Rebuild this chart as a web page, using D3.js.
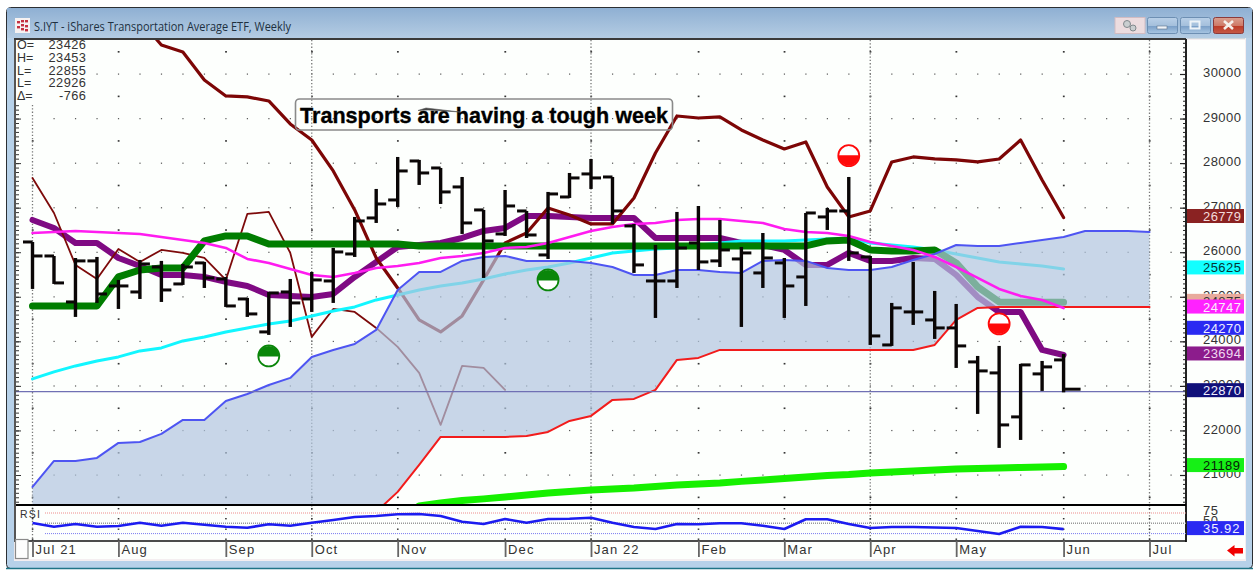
<!DOCTYPE html>
<html><head><meta charset="utf-8">
<script src="https://d3js.org/d3.v7.min.js"></script>
<style>html,body{margin:0;padding:0;background:#fff;overflow:hidden}svg{display:block}</style>
</head><body><svg id="c" width="1255" height="571"></svg>
<script>
// ---------- data ----------
const monthLabels = ["Jul 21","Aug","Sep","Oct","Nov","Dec","Jan 22","Feb","Mar","Apr","May","Jun","Jul"];
const monthWeeks  = [0,4,9,13,17,22,26,31,35,39,43,48,52];
const quarterWeeks = [0,13,26,39,52];
const priceTicks = [21000,22000,23000,24000,25000,26000,27000,28000,29000,30000];
const opens  = [26230,25916,24884,25805,25243,25108,25669,25288,25760,25400,24951,24211,25108,24951,25355,25961,26769,27173,28048,27891,27465,26949,26410,26926,25939,27240,27757,27689,26590,25355,25355,26208,25805,25849,25535,25760,25445,26792,26926,25894,23919,24660,24480,24301,23538,23291,22304,23269,23583];
const highs  = [26230,25916,25871,25894,25378,25827,25805,25737,25782,25445,24974,25108,25400,25557,26096,26792,27420,28138,28071,27891,27689,26949,27397,26926,27353,27779,28093,27689,26635,26163,26904,27038,26724,26118,26432,25871,26881,26994,27689,25916,24862,25782,25131,24839,23672,23897,23493,23560,23717];
const lows   = [25176,25288,24548,24862,24727,24951,24884,25266,25198,24772,24548,24144,24323,24660,24862,25894,26657,27016,27510,27083,26410,25423,26365,26320,25849,27218,27420,26635,25535,24525,25198,25602,25669,24323,25198,24525,24794,26500,25805,23919,23897,24368,24054,23403,22371,21608,21787,22887,22855];
const closes = [25916,25311,25805,25063,25243,25737,25153,25669,25423,24794,24615,25086,24862,25378,26006,26702,27083,27824,27779,27353,26657,26253,27038,26387,27308,27667,27667,26926,25715,25355,26096,25782,26051,25984,25871,25243,26881,26926,25984,24121,24750,24660,24301,23897,23336,22124,23471,23426,22926];

const darkRedStart = 5;
const darkRedThick = [31212,30651,30494,29866,29507,29485,29395,28879,28519,27824,26949,25871,25198,24480,24211,24570,25378,26208,26432,26994,26836,26635,26635,27218,28228,29058,29013,29036,28744,28519,28317,28475,27465,26792,26926,28026,28138,28093,28071,28026,28093,28519,27622,26779];
const darkRedThin = [27667,26881,25715,25400,26073,25782,26051,25984,25871,25378,26859,26904,25984,24099,24727,24660,24301,23874,23291,22124,23448,23403,22909];
const purpleLine = [26724,26545,26208,26208,25871,25692,25490,25490,25445,25333,25243,25041,25019,24996,25063,25445,25782,26118,26163,26208,26320,26477,26545,26814,26814,26792,26769,26769,26769,26320,26320,26320,26320,26208,26163,26051,25715,25715,25984,25805,25805,25871,25849,25490,24996,24660,24660,23807,23694];
const greenLine  = [24794,24794,24794,24794,25445,25602,25647,25647,26253,26365,26365,26186,26186,26186,26186,26186,26186,26186,26141,26141,26141,26141,26141,26141,26141,26141,26141,26141,26141,26141,26141,26141,26141,26141,26141,26141,26141,26253,26275,26051,26029,26029,26051,25760,25221,24884,24875,24875,24875];
const magentaLine = [26432,26455,26477,26455,26432,26410,26343,26275,26208,26096,25849,25760,25624,25490,25445,25535,25647,25692,25760,25871,25916,25984,26096,26118,26208,26343,26477,26567,26635,26657,26724,26747,26747,26702,26657,26522,26455,26432,26365,26230,26141,26051,25894,25669,25423,25176,25019,24929,24747];
const cyanLine = [23156,23314,23448,23560,23650,23785,23852,24009,24099,24211,24301,24391,24458,24570,24682,24772,24929,25041,25153,25243,25311,25400,25512,25602,25669,25760,25871,25984,26029,26073,26096,26163,26208,26253,26253,26253,26275,26298,26320,26208,26163,26118,26051,25961,25871,25782,25737,25692,25625];
const cloudUpper = [20733,21316,21316,21383,21720,21742,21922,22236,22236,22662,22819,23021,23179,23650,23807,23942,24256,25153,25557,25557,25805,25894,25916,25805,25805,25805,25760,25669,25490,25490,25602,25602,25557,25535,25805,25827,25805,25647,25602,25602,25669,25827,25961,26163,26141,26141,26208,26275,26343,26477,26477,26477,26455];
const cloudLower = [19500,19500,19500,19500,19500,19500,19500,19500,19500,19500,19500,19500,19500,19500,19500,19768,20172,20621,21227,21855,21855,21855,21855,21877,21967,22214,22326,22685,22708,22909,23583,23628,23807,23807,23807,23807,23807,23807,23807,23807,23807,23807,23919,24480,24750,24772,24772,24772,24772,24772,24772,24772,24772];
const limeStart = 18;
const limeLine = [20306,20374,20430,20464,20508,20553,20598,20632,20665,20688,20710,20744,20778,20800,20823,20857,20890,20924,20957,20991,21013,21047,21069,21092,21114,21136,21148,21159,21170,21181,21189];
const rsiValues = [50.7,41.8,48.3,41.8,43.4,51.5,44.2,51.5,46.6,41.8,39.3,47.6,44.2,51.5,58,65.3,67.7,71.8,72.6,67.7,53.9,48.3,60.4,51.5,60.4,61.2,63.6,51.5,41,36.2,48.3,47.6,50,50,44.2,36.2,59.7,59.7,48.3,38.6,41,41,39.8,38.6,31.3,24,41.8,41,35.92];
const signalWeeks  = [11,24,38,45];
const signalPrices = [23672,25378,28167,24391];
const signalKinds  = ["buy","buy","sell","sell"];
const readoutNames  = ["O=","H=","L=","L=","Δ="];
const readoutValues = ["23426","23453","22855","22926","-766"];
const lastPrice = 22870;
const tagValues = [26779,25625,24875,24747,24270,23694,22870,21189];
const tagFills  = ["#8a2222","#12ffff","#e8aa9c","#ff22ff","#2a2af2","#8c1c8c","#10107a","#16f016"];
const tagInks   = ["#f4dcdc","#053535","#333333","#fbeefb","#f0f0ff","#f0d8f0","#f0f0ff","#062006"];
const rsiTicks = [75,50,25];

// ---------- scales ----------
const svg = d3.select("#c");
const pane = {l:16, r:1186, t:40, b:505, rb:541};
const x = d3.scaleLinear().domain([0,52]).range([32.5,1149.5]);
const y = d3.scaleLinear().domain([21000,30000]).range([475,74]);
const yR = d3.scaleLinear().domain([25,75]).range([533.6,513]);
const weeks = d3.range(1,54);
const FONT = "'Liberation Sans',Arial,sans-serif";

// ---------- window chrome ----------
const defs = svg.append("defs");
const g1 = defs.append("linearGradient").attr("id","tb").attr("x1",0).attr("x2",0).attr("y1",0).attr("y2",1);
g1.append("stop").attr("offset",0).attr("stop-color","#8fb0d3");
g1.append("stop").attr("offset",1).attr("stop-color","#b4cce3");
const g2 = defs.append("linearGradient").attr("id","btn").attr("x1",0).attr("x2",0).attr("y1",0).attr("y2",1);
g2.append("stop").attr("offset",0).attr("stop-color","#b9d0e8");
g2.append("stop").attr("offset",.5).attr("stop-color","#a5c0dc");
g2.append("stop").attr("offset",.55).attr("stop-color","#7ba0c8");
g2.append("stop").attr("offset",1).attr("stop-color","#a9c6e2");
const g3 = defs.append("linearGradient").attr("id","cls").attr("x1",0).attr("x2",0).attr("y1",0).attr("y2",1);
g3.append("stop").attr("offset",0).attr("stop-color","#d9a090");
g3.append("stop").attr("offset",.5).attr("stop-color","#cf7a68");
g3.append("stop").attr("offset",.55).attr("stop-color","#bd3c28");
g3.append("stop").attr("offset",1).attr("stop-color","#c55a48");
defs.append("clipPath").attr("id","main").append("rect").attr("x",pane.l).attr("y",pane.t).attr("width",pane.r-pane.l).attr("height",pane.b-pane.t);
defs.append("clipPath").attr("id","rsi").append("rect").attr("x",pane.l).attr("y",pane.b).attr("width",pane.r-pane.l).attr("height",pane.rb-pane.b);

svg.append("rect").attr("width",1255).attr("height",571).attr("fill","#fff");
svg.append("rect").attr("x",6.5).attr("y",7.5).attr("width",1246).attr("height",561).attr("rx",4).attr("fill","#b7d1e9").attr("stroke","#2c2f33");
svg.append("path").attr("d","M6 568.5H1253").attr("stroke","#1f7486").attr("stroke-width",1.5);
svg.append("rect").attr("x",7).attr("y",8).attr("width",1245).attr("height",30).attr("fill","url(#tb)");
svg.append("rect").attr("x",14).attr("y",38).attr("width",1232).attr("height",523).attr("fill","#f4eef0");
svg.append("rect").attr("x",14).attr("y",38).attr("width",1172).attr("height",2).attr("fill","#3a3a3a");
svg.append("rect").attr("x",1186).attr("y",38).attr("width",59).attr("height",1).attr("fill","#cfd8df");
svg.append("rect").attr("x",15).attr("y",40).attr("width",1230).attr("height",519).attr("fill","#fdfffd");
svg.append("rect").attr("x",14).attr("y",40).attr("width",2).attr("height",502).attr("fill","#555");

// title bar
const icon = svg.append("g");
icon.append("rect").attr("x",15).attr("y",18).attr("width",15).attr("height",15).attr("fill","#f6f2f2");
[[18,22],[22,21],[26,21],[18,27],[22,25],[26,26],[22,29],[26,30]].forEach(p=>icon.append("rect").attr("x",p[0]-1).attr("y",p[1]-1).attr("width",3).attr("height",2.4).attr("fill","#c43040"));
svg.append("text").attr("x",34).attr("y",30.5).attr("font-family","'Open Sans',sans-serif").attr("font-size",12)
  .attr("textLength",257).attr("lengthAdjust","spacingAndGlyphs").attr("fill","#20303f").text("S.IYT - iShares Transportation Average ETF, Weekly");
svg.append("rect").attr("x",1115).attr("y",17.5).attr("width",30).attr("height",16).attr("fill","#ecdcdf").attr("stroke","#d2bcc2");
svg.append("circle").attr("cx",1127).attr("cy",24).attr("r",3.5).attr("fill","#c9ced0").attr("stroke","#80888c");
svg.append("circle").attr("cx",1133).attr("cy",28).attr("r",3).attr("fill","#c9ced0").attr("stroke","#80888c");
svg.append("rect").attr("x",1147.5).attr("y",17.5).attr("width",30).attr("height",16).attr("rx",2).attr("fill","url(#btn)").attr("stroke","#6d8fb3");
svg.append("rect").attr("x",1157).attr("y",26).attr("width",10).attr("height",3).attr("fill","#eef3f8").attr("stroke","#5a7088").attr("stroke-width",.6);
svg.append("rect").attr("x",1180.5).attr("y",17.5).attr("width",30).attr("height",16).attr("rx",2).attr("fill","url(#btn)").attr("stroke","#6d8fb3");
svg.append("rect").attr("x",1190.5).attr("y",21.5).attr("width",9).attr("height",7).attr("fill","none").attr("stroke","#eef3f8").attr("stroke-width",2);
svg.append("rect").attr("x",1213.5).attr("y",17.5).attr("width",30).attr("height",16).attr("rx",2).attr("fill","url(#cls)").attr("stroke","#8c3a3a");
svg.append("path").attr("d","M1224 21L1233 29M1233 21L1224 29").attr("stroke","#f5f0ec").attr("stroke-width",2.6);

// ---------- grid ----------
const grid = svg.append("g");
const gridRows = priceTicks;
gridRows.forEach(p=>{
  grid.selectAll(null).data(weeks).join("rect").attr("x",d=>x(d)-.5).attr("y",y(p)-.5).attr("width",1.2).attr("height",1.2).attr("fill","#555");
});
monthWeeks.forEach(w=>{
  d3.range(20500,31000,1000).forEach(p=>{
    if(y(p)>pane.t && y(p)<pane.b) grid.append("rect").attr("x",x(w)-.7).attr("y",y(p)-.7).attr("width",1.8).attr("height",1.6).attr("fill","#333");
  });
});
quarterWeeks.forEach(w=>{
  const top = w===0 ? 105 : pane.t;
  grid.append("line").attr("x1",x(w)).attr("x2",x(w)).attr("y1",top).attr("y2",pane.rb)
    .attr("stroke","#777").attr("stroke-width",1.3).attr("stroke-dasharray","1.3 2");
});

// ---------- series beneath the cloud ----------
const lineP = (offset=0)=>d3.line().x((d,i)=>x(i+offset)).y(d=>y(d));
const main = svg.append("g").attr("clip-path","url(#main)");
function drawLine(parent,vals,offset,color,width){
  parent.append("path").attr("d",lineP(offset)(vals)).attr("fill","none").attr("stroke",color)
    .attr("stroke-width",width).attr("stroke-linecap","round").attr("stroke-linejoin","round");
}
drawLine(main,purpleLine,0,"#7f0a83",6);
drawLine(main,darkRedThin,0,"#7d0a0a",1.8);
drawLine(main,darkRedThick,darkRedStart,"#7d0606",3.2);
drawLine(main,cyanLine,0,"#12f6ff",3);
drawLine(main,greenLine,0,"#007d00",7);
drawLine(main,limeLine,limeStart,"#16f000",7);

// cloud
const area = d3.area().x((d,i)=>x(i)).y0((d,i)=>y(cloudLower[i])).y1(d=>y(d));
main.append("path").attr("d",area(cloudUpper)).attr("fill","#b0c4de").attr("fill-opacity",.7);
drawLine(main,cloudUpper,0,"#4e55f2",2);
drawLine(main,cloudLower,0,"#f21c1c",2);
drawLine(main,magentaLine,0,"#ff1cf0",2.6);

// last price line
main.append("line").attr("x1",pane.l).attr("x2",pane.r).attr("y1",y(lastPrice)).attr("y2",y(lastPrice)).attr("stroke","#7070b4").attr("stroke-width",1.3);

// ---------- bars ----------
const bars = main.append("g").attr("stroke","#0a0606").attr("stroke-width",3);
opens.forEach((o,i)=>{
  bars.append("line").attr("x1",x(i)).attr("x2",x(i)).attr("y1",y(highs[i])).attr("y2",y(lows[i])).attr("stroke-width",3.4);
  bars.append("line").attr("x1",x(i)-9.5).attr("x2",x(i)).attr("y1",y(o)).attr("y2",y(o));
  bars.append("line").attr("x1",x(i)).attr("x2",x(i)+(i===opens.length-1?17:10)).attr("y1",y(closes[i])).attr("y2",y(closes[i]));
});

// ---------- signal markers ----------
signalWeeks.forEach((w,i)=>{
  const cx=x(w), cy=y(signalPrices[i]), r=10.5, buy=signalKinds[i]==="buy";
  const col=buy?"#0a860a":"#ff0a0a";
  svg.append("circle").attr("cx",cx).attr("cy",cy).attr("r",r).attr("fill","#fff").attr("stroke",col).attr("stroke-width",1.8);
  const arc = buy ? `M${cx-r},${cy+.5}A${r},${r} 0 0 1 ${cx+r},${cy+.5}Z` : `M${cx-r},${cy-.5}A${r},${r} 0 0 0 ${cx+r},${cy-.5}Z`;
  svg.append("path").attr("d",arc).attr("fill",col);
});

// ---------- readout box ----------
svg.append("rect").attr("x",16).attr("y",40).attr("width",76).attr("height",64).attr("fill","#fdfffd");
readoutNames.forEach((n,i)=>{
  const ty=49+i*12.8;
  svg.append("text").attr("x",17).attr("y",ty).attr("font-family",FONT).attr("font-size",12.5).attr("fill","#333").text(n);
  svg.append("text").attr("x",86.5).attr("y",ty).attr("text-anchor","end").attr("font-family",FONT).attr("font-size",12.8).attr("letter-spacing",.5).attr("fill","#333").text(readoutValues[i]);
});

// ---------- annotation ----------
svg.append("rect").attr("x",295.5).attr("y",99).attr("width",377).attr("height",31).attr("rx",4).attr("fill","none").attr("stroke","#8a8a8a").attr("stroke-width",1.6);
svg.append("text").attr("x",300).attr("y",123).attr("font-family",FONT).attr("font-weight",700).attr("font-size",22.4)
  .attr("textLength",368).attr("lengthAdjust","spacingAndGlyphs").attr("fill","#000").attr("stroke","#000").attr("stroke-width",.35).text("Transports are having a tough week");
svg.append("path").attr("d","M418 110.5L426 108L460 112L428 110Z").attr("fill","#444").attr("stroke","#555").attr("stroke-width",.6);

// ---------- price axes ----------
const minorVals = d3.range(20400,30800,100).filter(v=>y(v)>pane.t+2 && y(v)<pane.b-1);
const axR = svg.append("g").attr("transform",`translate(${pane.r},0)`)
  .call(d3.axisLeft(y).tickValues(minorVals).tickSize(3).tickFormat(""));
axR.select(".domain").remove();
axR.selectAll("line").attr("stroke","#222").attr("stroke-width",1);
const axR2 = svg.append("g").attr("transform",`translate(${pane.r},0)`)
  .call(d3.axisLeft(y).tickValues(priceTicks).tickSize(6).tickFormat(""));
axR2.select(".domain").remove();
axR2.selectAll("line").attr("stroke","#222").attr("stroke-width",1.2);
const axL = svg.append("g").attr("transform",`translate(${pane.l},0)`)
  .call(d3.axisRight(y).tickValues(minorVals.filter(v=>y(v)>104)).tickSize(3).tickFormat(""));
axL.select(".domain").remove();
axL.selectAll("line").attr("stroke","#333");
const axL2 = svg.append("g").attr("transform",`translate(${pane.l},0)`)
  .call(d3.axisRight(y).tickValues(priceTicks.filter(v=>y(v)>104)).tickSize(5).tickFormat(""));
axL2.select(".domain").remove();
axL2.selectAll("line").attr("stroke","#333");
const axT = svg.append("g").attr("transform",`translate(1203,0)`)
  .call(d3.axisRight(y).tickValues(priceTicks).tickSize(0).tickPadding(0).tickFormat(d3.format("d")));
axT.select(".domain").remove();
axT.selectAll("text").attr("font-family",FONT).attr("font-size",13).attr("letter-spacing",.45).attr("fill","#333").attr("dy","0.2em");

// frame lines
svg.append("line").attr("x1",pane.r).attr("x2",pane.r).attr("y1",39).attr("y2",pane.rb+1).attr("stroke","#222").attr("stroke-width",2);
svg.append("line").attr("x1",pane.l).attr("x2",pane.r).attr("y1",pane.b).attr("y2",pane.b).attr("stroke","#000").attr("stroke-width",2);
svg.append("line").attr("x1",pane.l).attr("x2",pane.r).attr("y1",pane.rb).attr("y2",pane.rb).attr("stroke","#111").attr("stroke-width",1.4);

// ---------- RSI pane ----------
const rp = svg.append("g").attr("clip-path","url(#rsi)");
const rsiColors = ["#ee8c8c","#999","#7a7af0"];
rsiTicks.forEach((t,i)=>{
  rp.append("line").attr("x1",45).attr("x2",pane.r).attr("y1",yR(t)).attr("y2",yR(t)).attr("stroke",rsiColors[i])
    .attr("stroke-width",i===1?1.6:1).attr("stroke-dasharray","1 1");
});
monthWeeks.forEach(w=>{
  [508,518,528.5,538.5].forEach(py=>rp.append("rect").attr("x",x(w)-.7).attr("y",py).attr("width",1.6).attr("height",1.4).attr("fill","#333"));
});
rp.append("path").attr("d",d3.line().x((d,i)=>x(i)).y(d=>yR(d))(rsiValues)).attr("fill","none").attr("stroke","#1c1cf0").attr("stroke-width",2.6).attr("stroke-linejoin","round");
svg.append("text").attr("x",20).attr("y",518).attr("font-family",FONT).attr("font-size",10.5).attr("letter-spacing",1.2).attr("fill","#333").text("RSI");
const axRsi = svg.append("g").attr("transform",`translate(1203,0)`)
  .call(d3.axisRight(yR).tickValues(rsiTicks).tickSize(0).tickPadding(0).tickFormat(d3.format("d")));
axRsi.select(".domain").remove();
axRsi.selectAll("text").attr("font-family",FONT).attr("font-size",13).attr("letter-spacing",.45).attr("fill","#333").attr("dy","0.1em");

// ---------- value tags ----------
tagValues.forEach((v,i)=>{
  const cy=y(v)-1.5;
  svg.append("rect").attr("x",1187).attr("y",cy-7).attr("width",57).attr("height",14).attr("fill",tagFills[i]);
  svg.append("text").attr("x",1203).attr("y",cy+5).attr("font-family",FONT).attr("font-size",13).attr("letter-spacing",.45).attr("fill",tagInks[i]).text(v);
});
const rsiLast = rsiValues[rsiValues.length-1];
svg.append("rect").attr("x",1187).attr("y",yR(rsiLast)-8).attr("width",57).attr("height",14).attr("fill","#2a2af2");
svg.append("text").attr("x",1203).attr("y",yR(rsiLast)+4).attr("font-family",FONT).attr("font-size",13).attr("letter-spacing",1).attr("fill","#f0f0ff").text(rsiLast.toFixed(2));

// ---------- month axis ----------
const axX = svg.append("g").attr("transform",`translate(0,${pane.rb})`)
  .call(d3.axisBottom(x).tickValues(monthWeeks).tickSize(16).tickFormat((d,i)=>monthLabels[i]));
axX.select(".domain").remove();
axX.selectAll("line").attr("stroke","#666").attr("stroke-width",1.8);
axX.selectAll("text").attr("text-anchor","start").attr("font-family",FONT).attr("font-size",13).attr("letter-spacing",1.1).attr("fill","#333")
  .attr("x",2.5).attr("y",3).attr("dy","0.8em");

// bottom furniture
svg.append("rect").attr("x",15.5).attr("y",539.5).attr("width",12.5).attr("height",19).attr("fill","#fdfdfd").attr("stroke","#8a8a8a").attr("stroke-width",1.2);
svg.append("path").attr("d","M1227 550.5L1234.5 545V548H1243V553.5H1234.5V556.5Z").attr("fill","#f00000");
</script></body></html>
